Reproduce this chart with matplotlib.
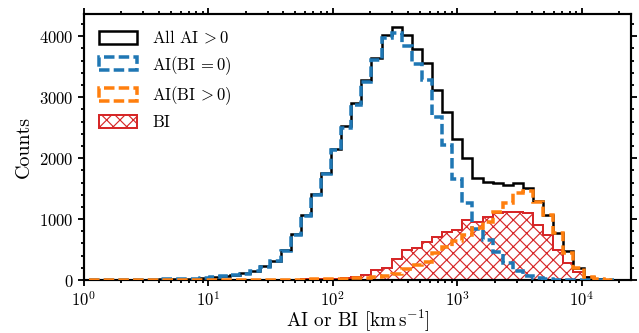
import numpy as np
import matplotlib
matplotlib.use('Agg')
import matplotlib.pyplot as plt
from matplotlib.ticker import MultipleLocator

plt.rcParams['font.family'] = 'serif'
plt.rcParams['font.serif'] = ['cmr10']
plt.rcParams['mathtext.fontset'] = 'cm'
plt.rcParams['axes.formatter.use_mathtext'] = True
plt.rcParams['hatch.linewidth'] = 0.7

# log-spaced bins (log10 km/s)
log_start = 0.04
log_width = 0.0811
n_bins = 52
edges = 10 ** (log_start + log_width * np.arange(n_bins + 1))
centers = np.sqrt(edges[:-1] * edges[1:])

# counts per bin
all_ai = [2, 3, 3, 4, 5, 6, 8, 10, 13, 18,
          25, 33, 44, 65, 82, 110, 145, 225, 320, 490,
          754, 1066, 1405, 1760, 2150, 2525, 2907, 3279, 3650, 4027,
          4153, 4027, 3798, 3568, 3115, 2760, 2311, 1995, 1667, 1612,
          1585, 1557, 1596, 1503, 1290, 1070, 770, 470, 195, 54,
          20, 5]
ai_bi0 = [2, 3, 3, 4, 5, 6, 8, 10, 13, 18,
          24, 32, 43, 63, 80, 107, 141, 221, 315, 484,
          747, 1057, 1394, 1745, 2132, 2501, 2875, 3247, 3602, 3967,
          4050, 3840, 3540, 3280, 2675, 2215, 1665, 1262, 830, 656,
          464, 282, 150, 60, 28, 12, 6, 3, 1, 0,
          0, 0]
ai_bipos = [0, 0, 0, 0, 0, 0, 0, 0, 0, 0,
            1, 1, 1, 2, 2, 3, 4, 4, 5, 6,
            7, 9, 11, 15, 18, 24, 32, 32, 48, 60,
            100, 185, 255, 290, 440, 535, 640, 745, 860, 955,
            1120, 1257, 1431, 1464, 1284, 1066, 766, 440, 192, 54,
            22, 5]
bi = [0, 0, 0, 0, 0, 0, 0, 0, 0, 0,
      0, 0, 0, 0, 0, 1, 2, 3, 4, 6,
      8, 10, 13, 16, 20, 28, 54, 82, 164, 200,
      339, 492, 519, 628, 710, 792, 820, 984, 960, 1038,
      1104, 1120, 1120, 1104, 902, 738, 492, 274, 136, 54,
      15, 5]

fig = plt.figure(figsize=(639 / 120, 333 / 120), dpi=120)
ax = fig.add_axes([0.131, 0.159, 0.857, 0.799])

_, _, p_bi = ax.hist(centers, bins=edges, weights=bi, histtype='step',
                     color='#d62728', lw=1.2, hatch='xxx', zorder=1, label='BI')
_, _, p_all = ax.hist(centers, bins=edges, weights=all_ai, histtype='step',
                      color='black', lw=1.5, zorder=2, label=r'All AI$\,>0$')
_, _, p_b0 = ax.hist(centers, bins=edges, weights=ai_bi0, histtype='step',
                     color='#1f77b4', lw=2.1, ls=(0, (3, 1.2)), zorder=3,
                     label=r'AI(BI$\,=0$)')
_, _, p_bp = ax.hist(centers, bins=edges, weights=ai_bipos, histtype='step',
                     color='#ff7f0e', lw=2.1, ls=(0, (3, 1.2)), zorder=3,
                     label=r'AI(BI$\,>0$)')

ax.set_xscale('log')
ax.set_xlim(1, 2.5e4)
ax.set_ylim(0, 4365)
ax.yaxis.set_major_locator(MultipleLocator(1000))
ax.yaxis.set_minor_locator(MultipleLocator(200))
ax.tick_params(which='both', direction='out', top=True, right=True,
               labelsize=10, width=1.1, pad=2.5)
ax.tick_params(which='major', length=3.5)
ax.tick_params(which='minor', length=2)
for s in ax.spines.values():
    s.set_linewidth(1.3)

ax.set_xlabel(r'AI or BI $[\mathrm{km\,s^{-1}}]$', fontsize=11.5, labelpad=-0.5)
ax.set_ylabel('Counts', fontsize=12)

ax.legend(handles=[p_all[0], p_b0[0], p_bp[0], p_bi[0]],
          labels=[r'All AI$\,>0$', r'AI(BI$\,=0$)', r'AI(BI$\,>0$)', 'BI'],
          loc='upper left', frameon=False, fontsize=10,
          handlelength=2.3, handleheight=0.8, labelspacing=0.47,
          handletextpad=0.9)

fig.savefig('out.png', dpi=120)
